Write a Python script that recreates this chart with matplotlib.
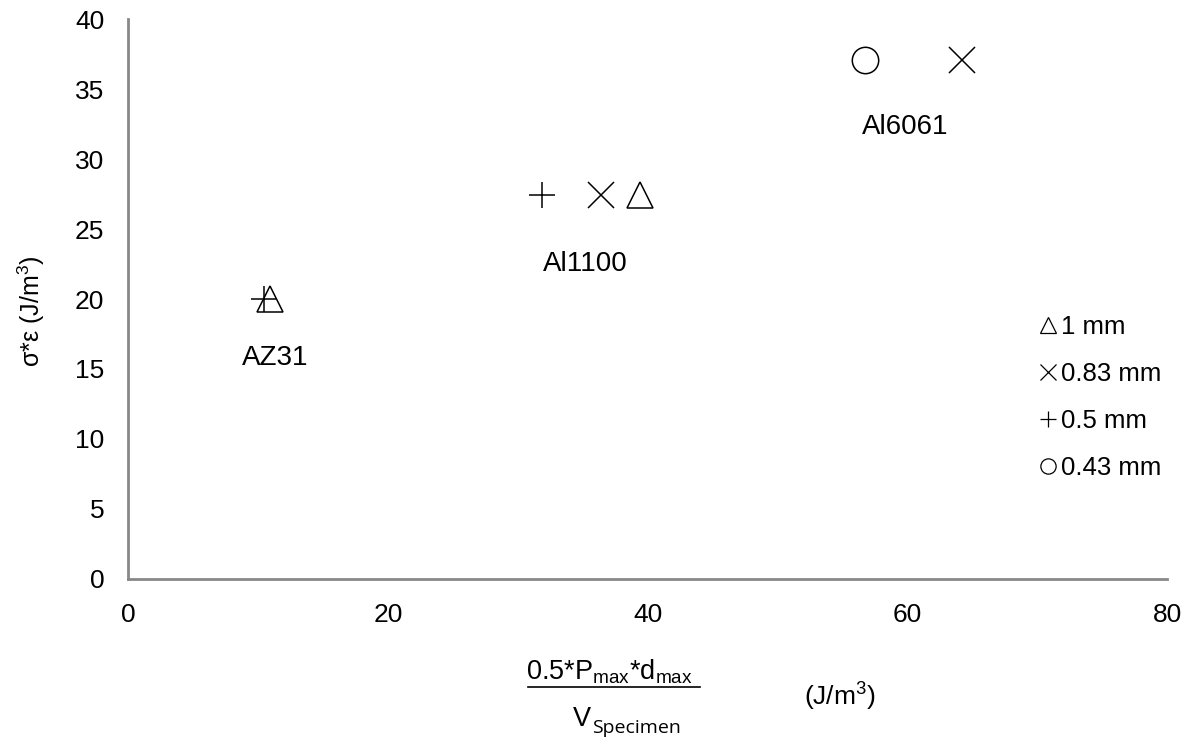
import matplotlib
matplotlib.use('Agg')
import matplotlib.pyplot as plt
from matplotlib.lines import Line2D

plt.rcParams['font.family'] = ['Liberation Sans', 'DejaVu Sans']
plt.rcParams['mathtext.fontset'] = 'custom'
plt.rcParams['mathtext.rm'] = 'Liberation Sans'
plt.rcParams['mathtext.it'] = 'Liberation Sans:italic'

# data, one series per thickness
thick_labels = ['1 mm', '0.83 mm', '0.5 mm', '0.43 mm']
markers = ['^', 'x', '+', 'o']
x_1mm = [10.9, 39.4]
y_1mm = [20.0, 27.4]
x_083mm = [36.4, 64.2]
y_083mm = [27.4, 37.1]
x_05mm = [10.5, 31.9]
y_05mm = [20.0, 27.4]
x_043mm = [56.7]
y_043mm = [37.1]

materials = ['AZ31', 'Al1100', 'Al6061']
mat_x = [11.3, 35.2, 59.8]
mat_y = [15.8, 22.5, 32.3]

xs = [x_1mm, x_083mm, x_05mm, x_043mm]
ys = [y_1mm, y_083mm, y_05mm, y_043mm]

fig = plt.figure(figsize=(11.91, 7.37), dpi=100)
ax = fig.add_axes([0.1075, 0.2144, 0.8725, 0.7598])

for x, y, m, lab in zip(xs, ys, markers, thick_labels):
    ax.plot(x, y, linestyle='none', marker=m, ms=19, color='black', mfc='none', mec='black', mew=1.1, label=lab)

for name, mx, my in zip(materials, mat_x, mat_y):
    ax.text(mx, my, name, fontsize=20, ha='center', va='center')

ax.set_xlim(0, 80)
ax.set_ylim(0, 40)
ax.set_xticks([0, 20, 40, 60, 80])
ax.set_yticks(range(0, 41, 5))
ax.tick_params(length=0, labelsize=19)
ax.tick_params(axis='x', pad=17)
ax.tick_params(axis='y', pad=17)
for s in ['top', 'right']:
    ax.spines[s].set_visible(False)
for s in ['left', 'bottom']:
    ax.spines[s].set_color('#888888')
    ax.spines[s].set_linewidth(2)

handles = []
for m, lab in zip(markers, thick_labels):
    handles.append(Line2D([], [], linestyle='none', marker=m, ms=11, color='black',
                          mfc='none', mew=0.9, label=lab))
ax.legend(handles=handles, frameon=False, fontsize=18.5, loc='upper left',
          bbox_to_anchor=(0.868, 0.49), handlelength=0.6, handletextpad=0.2,
          labelspacing=0.9, borderaxespad=0)

# y label
fig.text(0.026, 0.577, r'σ*ε (J/m$^{3}$)', rotation=90, fontsize=18, ha='center', va='center')

# x label as a fraction
fig.text(0.512, 0.088, r'0.5*P$_{\rm max}$*d$_{\rm max}$', fontsize=19.5, ha='center', va='center')
fig.add_artist(Line2D([0.443, 0.588], [0.068, 0.068], color='black', lw=1.2))
fig.text(0.496, 0.024, r'V', fontsize=19.5, ha='right', va='center')
fig.text(0.497, 0.012, 'Specimen', fontsize=14, family=['Open Sans', 'DejaVu Sans'], ha='left', va='center')
fig.text(0.705, 0.055, r'(J/m$^{3}$)', fontsize=19, ha='center', va='center')

fig.savefig('out.png', dpi=100)
